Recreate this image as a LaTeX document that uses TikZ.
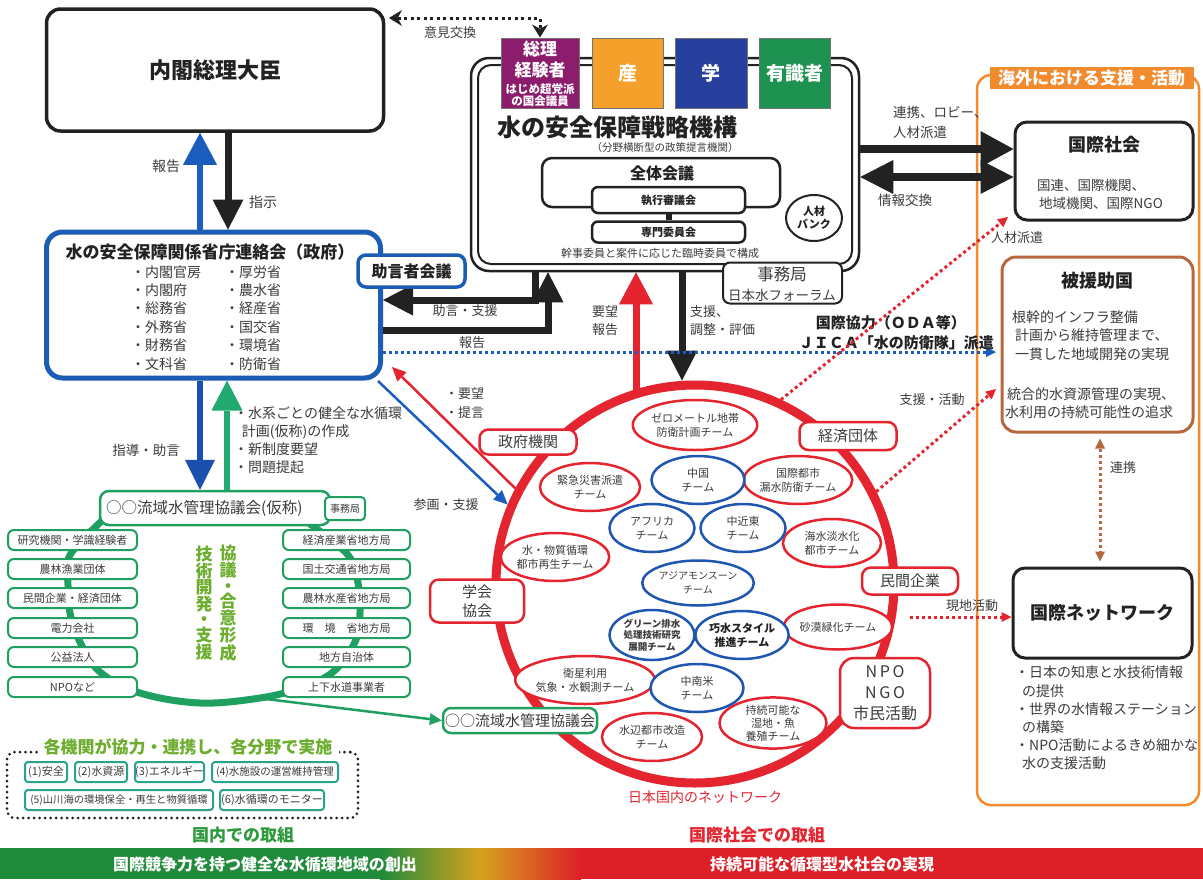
\documentclass[tikz,border=0pt]{standalone}
\usepackage{fontspec}
\setmainfont{Noto Sans CJK JP}
\usetikzlibrary{arrows.meta,shapes.geometric}
\newcommand{\myfs}[2]{\fontsize{#1}{#2}\selectfont}
\definecolor{blk}{HTML}{222222}
\definecolor{txt}{HTML}{3C3C3C}
\definecolor{bluebox}{HTML}{1D5CB4}
\definecolor{bluearr}{HTML}{1B5DBF}
\definecolor{bluedown}{HTML}{1A4FAE}
\definecolor{navy}{HTML}{27409E}
\definecolor{purp}{HTML}{8C1D6C}
\definecolor{orng}{HTML}{F4A02A}
\definecolor{grnbox}{HTML}{1E9251}
\definecolor{red1}{HTML}{E42530}
\definecolor{brwn}{HTML}{B6683C}
\definecolor{ofr}{HTML}{F28A2E}
\definecolor{gtxt}{HTML}{6DAE2F}
\definecolor{gdark}{HTML}{2E9A3C}
\definecolor{gline}{HTML}{20A060}
\definecolor{garr}{HTML}{22AA6E}
\definecolor{teal1}{HTML}{26A58C}
\definecolor{barg}{HTML}{1F8B3B}
\definecolor{barm}{HTML}{D6A21E}
\definecolor{barr}{HTML}{DD1F28}
\definecolor{teamblue}{HTML}{1F56B0}
\tikzset{
  lbl/.style={inner sep=0pt, text=txt, font=\myfs{13}{16}, align=center},
  bigblk/.style={draw=blk, line width=7pt, line join=miter, -{Triangle[length=30pt,width=31pt,line width=0pt]}},
  bigblue/.style={draw=bluearr, line width=6.5pt, -{Triangle[length=32pt,width=34pt,line width=0pt]}},
  bigred/.style={draw=red1, line width=7pt, -{Triangle[length=32pt,width=34pt,line width=0pt]}},
  biggreen/.style={draw=garr, line width=6.5pt, -{Triangle[length=30pt,width=31pt,line width=0pt]}},
  reddot/.style={draw=red1, line width=3pt, dash pattern=on 3pt off 3pt, -{Triangle[length=10pt,width=10pt,line width=0pt]}},
  bluedot/.style={draw=bluearr, line width=3pt, dash pattern=on 3pt off 3pt, -{Triangle[length=10pt,width=10pt,line width=0pt]}},
  netlbl/.style={draw=red1, line width=2.5pt, rounded corners=9pt, fill=white, inner sep=0pt, text=txt, font=\myfs{15}{18}, align=center},
  team/.style={ellipse, draw=red1, line width=2.5pt, fill=white, inner sep=0pt, align=center, text=txt, font=\myfs{11}{14}},
  teamb/.style={team, draw=teamblue},
  colbox/.style={draw=gline, line width=2pt, rounded corners=6pt, fill=white, minimum height=20pt, inner sep=0pt, font=\myfs{11}{12}, text=txt},
  itembox/.style={draw=teal1, line width=2pt, rounded corners=3pt, fill=white, minimum height=20pt, inner sep=0pt, font=\myfs{11}{12}, text=txt},
  colsq/.style={draw=black!55, line width=1pt, minimum height=70pt, inner sep=0pt, text=white, font=\myfs{19}{22}\bfseries, align=center},
}
\begin{document}
\begin{tikzpicture}[x=1pt,y=-1pt]
\useasboundingbox (0,0) rectangle (1203,879);
\fill[white] (0,0) rectangle (1203,879);

% helper coordinates
\coordinate (x200) at (200,0);
\coordinate (x227) at (227,0);
\coordinate (x228) at (228,0);
\coordinate (x535) at (535,0);
\coordinate (x548) at (548,0);
\coordinate (x636) at (636,0);
\coordinate (x682) at (682,0);
\coordinate (x1100) at (1100,0);
\coordinate (y300) at (0,300);
\coordinate (y330) at (0,330);
\coordinate (y352) at (0,352);
\coordinate (y149) at (0,149);
\coordinate (y177) at (0,177);
\coordinate (y617) at (0,617);

% ===== right frame =====
\node[draw=ofr, line width=2.5pt, rounded corners=14pt, minimum width=222pt, minimum height=730pt] (abroad) at (1088,440) {};
\node[fill=ofr, text=white, font=\myfs{17}{19}\bfseries, minimum width=204pt, minimum height=22pt, inner sep=0pt] (abroadtab) at (1091.5,78) {海外における支援・活動};

% ===== Prime minister =====
\node[draw=blk, line width=3.5pt, rounded corners=14pt, minimum width=337pt, minimum height=122pt, font=\myfs{22}{26}\bfseries, text=blk] (naikaku) at (215,70) {内閣総理大臣};

% ===== liaison council =====
\node[draw=bluebox, line width=5pt, rounded corners=16pt, minimum width=334pt, minimum height=146pt] (renraku) at (213.5,305) {};
\node[lbl, font=\myfs{17}{20}\bfseries, text=blk] (renrakut) at (210,252) {水の安全保障関係省庁連絡会（政府）};
\foreach \t/\y [count=\i] in {・内閣官房/272,・内閣府/290,・総務省/308,・外務省/327,・財務省/345,・文科省/364}
  \node[lbl, anchor=west, font=\myfs{14}{16}] (ma\i) at (131,\y) {\t};
\foreach \t/\y [count=\i] in {・厚労省/272,・農水省/290,・経産省/308,・国交省/327,・環境省/345,・防衛省/364}
  \node[lbl, anchor=west, font=\myfs{14}{16}] (mb\i) at (225,\y) {\t};

% ===== strategy organisation =====
\node[draw=blk, line width=2.5pt, rounded corners=18pt, minimum width=388pt, minimum height=213pt] (org) at (665,164.5) {};
\node[draw=blk, line width=2pt, rounded corners=13pt, minimum width=374pt, minimum height=199pt] (orgin) at (665,164.5) {};
\node[colsq, fill=purp, minimum width=78pt] (sori) at (540,73) {};
\node[lbl, text=white, font=\myfs{17}{21}\bfseries] at (540,60) {総理\\経験者};
\node[lbl, text=white, font=\myfs{11.5}{12.5}\bfseries] at (540,95) {はじめ超党派\\の国会議員};
\node[colsq, fill=orng, minimum width=71pt] (san) at (627.5,73) {産};
\node[colsq, fill=navy, minimum width=72pt] (gaku) at (711,73) {学};
\node[colsq, fill=grnbox, minimum width=71pt] (yushiki) at (794.5,73) {有識者};
\node[lbl, font=\myfs{24}{26}\bfseries, text=blk] (orgt) at (617,127) {水の安全保障戦略機構};
\node[lbl, font=\myfs{10.5}{12}] (orgsub) at (665,148) {（分野横断型の政策提言機関）};
\node[draw=blk, line width=2.5pt, rounded corners=10pt, minimum width=238pt, minimum height=49pt] (zentai) at (661,182.5) {};
\node[lbl, font=\myfs{16}{18}\bfseries, text=blk] at (662,173) {全体会議};
\node[draw=blk, line width=2.5pt, rounded corners=6pt, fill=white, minimum width=153pt, minimum height=26pt, font=\myfs{11}{13}\bfseries, text=blk] (shikko) at (668.5,200) {執行審議会};
\node[draw=blk, line width=2.5pt, rounded corners=6pt, fill=white, minimum width=153pt, minimum height=21pt, font=\myfs{11}{13}\bfseries, text=blk] (senmon) at (668.5,232) {専門委員会};
\draw[blk, line width=6pt] (shikko.south) -- (senmon.north);
\node[lbl, font=\myfs{11}{13}] (kanji) at (660,253) {幹事委員と案件に応じた臨時委員で構成};
\node[ellipse, draw=blk, line width=2pt, minimum width=56pt, minimum height=46pt, inner sep=0pt, align=center, font=\myfs{11}{13}\bfseries, text=blk] (bank) at (814,218) {人材\\バンク};
\node[draw=blk, line width=2pt, rounded corners=7pt, fill=white, minimum width=119pt, minimum height=41pt] (jimu) at (782.5,283) {};
\node[lbl, font=\myfs{16.5}{18}] at (782,274) {事務局};
\node[lbl, font=\myfs{13.5}{15}] at (782,295) {日本水フォーラム};

% exchange of views
\coordinate (ikL) at (389,18);
\coordinate (ikC) at (540,18);
\draw[blk, line width=3pt, dash pattern=on 3pt off 3.5pt, {Stealth[length=13pt,width=16pt,line width=0pt]}-{Stealth[length=13pt,width=16pt,line width=0pt]}] (ikL) -- (ikC) -- (sori.north);
\node[lbl] at (450,33) {意見交換};

% PM <-> council
\draw[bigblue] (renraku.north -| x200) -- (naikaku.south -| x200);
\draw[bigblk] (naikaku.south -| x228) -- (renraku.north -| x228);
\node[lbl, font=\myfs{14}{16}] at (166,166) {報告};
\node[lbl, font=\myfs{14}{16}] at (263,202) {指示};

% org <-> council
\draw[bigblk] (org.south -| x535) -- (x535 |- y300) -- (renraku.east |- y300);
\draw[bigblk] (renraku.east |- y330) -- (x548 |- y330) -- (org.south -| x548);
\node[draw=bluebox, line width=3.5pt, rounded corners=8pt, fill=white, minimum width=107pt, minimum height=32pt, inner sep=0pt, font=\myfs{16}{18}\bfseries, text=blk] (jogen) at (411.5,271) {助言者会議};
\node[lbl, font=\myfs{13}{15}] at (465,311) {助言・支援};
\node[lbl, font=\myfs{13}{15}] at (472,343) {報告};

% network circle
\node[circle, draw=red1, line width=9pt, minimum size=398pt, inner sep=0pt] (net) at (695,584) {};

% org <-> network
\draw[bigred, shorten <=-12pt] (x636 |- net.north) -- (x636 |- org.south);
\draw[bigblk, line width=7pt] (x682 |- org.south) -- (x682 |- net.north);
\node[lbl, font=\myfs{13}{18}] at (605,321) {要望\\報告};
\node[lbl, font=\myfs{13}{18}, align=left, anchor=west] at (690,321) {支援、\\調整・評価};

% ODA dotted
\coordinate (bdend) at (996,352);
\draw[bluedot] (renraku.east |- y352) -- (bdend);
\node[lbl, anchor=east, font=\myfs{15}{17}\bfseries, text=blk] at (966,323) {国際協力（ＯＤＡ等）};
\node[lbl, anchor=east, font=\myfs{15}{17}\bfseries, text=blk] at (994,343) {ＪＩＣＡ「水の防衛隊」派遣};

% international society
\node[draw=blk, line width=3pt, rounded corners=12pt, minimum width=178pt, minimum height=98pt] (kokusai) at (1104,171) {};
\node[lbl, font=\myfs{18}{20}\bfseries, text=blk] at (1104,145) {国際社会};
\node[lbl, anchor=west, font=\myfs{13.5}{15}] at (1037,185) {国連、国際機関、};
\node[lbl, anchor=west, font=\myfs{13.5}{15}] at (1039,203) {地域機関、国際NGO};
\draw[bigblk, line width=8pt, -{Triangle[length=33pt,width=36pt,line width=0pt]}] (org.east |- y149) -- (kokusai.west |- y149);
\draw[bigblk, line width=8pt, {Triangle[length=33pt,width=34pt,line width=0pt]}-{Triangle[length=33pt,width=34pt,line width=0pt]}] (org.east |- y177) -- (kokusai.west |- y177);
\node[lbl, anchor=west, align=left, font=\myfs{13.5}{20}] at (893,122) {連携、ロビー、\\人材派遣};
\node[lbl, anchor=west, font=\myfs{13.5}{15}] at (878,200) {情報交換};

% aided country
\node[draw=brwn, line width=3pt, rounded corners=14pt, minimum width=191pt, minimum height=175pt] (hienjo) at (1097.5,344.5) {};
\node[lbl, font=\myfs{18}{20}\bfseries, text=blk] at (1097,281) {被援助国};
\node[lbl, anchor=west, font=\myfs{14}{16}] at (1012,317) {根幹的インフラ整備};
\node[lbl, anchor=west, font=\myfs{14}{16}] at (1015,335) {計画から維持管理まで、};
\node[lbl, anchor=west, font=\myfs{14}{16}] at (1015,354) {一貫した地域開発の実現};
\node[lbl, anchor=west, font=\myfs{14}{16}] at (1007,394) {統合的水資源管理の実現、};
\node[lbl, anchor=west, font=\myfs{14}{16}] at (1005,412) {水利用の持続可能性の追求};

% international network
\node[draw=blk, line width=3pt, rounded corners=12pt, minimum width=179pt, minimum height=90pt, font=\myfs{18}{20}\bfseries, text=blk] (netw) at (1102.5,613) {国際ネットワーク};
\node[lbl, anchor=north west, align=left, font=\myfs{14}{18.2}] at (1015,666) {・日本の知恵と水技術情報\\\hspace*{0.5em}の提供\\・世界の水情報ステーション\\\hspace*{0.5em}の構築\\・NPO活動によるきめ細かな\\\hspace*{0.5em}水の支援活動};

\draw[draw=brwn, line width=3pt, dash pattern=on 3pt off 3pt, shorten <=5pt, shorten >=5pt, {Triangle[length=10pt,width=10pt,line width=0pt]}-{Triangle[length=10pt,width=10pt,line width=0pt]}] (hienjo.south -| x1100) -- (netw.north -| x1100);
\node[lbl] at (1123,468) {連携};

% red dotted links
\coordinate (zinend) at (1008,217);
\coordinate (shienend) at (996,389);
\coordinate (genstart) at (910,617);
\draw[reddot] (net.65) -- (zinend);
\draw[reddot] (net.27) -- (shienend);
\draw[reddot] (genstart) -- (netw.west |- y617);
\node[lbl] at (1017,238) {人材派遣};
\node[lbl] at (932,400) {支援・活動};
\node[lbl] at (972,606) {現地活動};

% council <-> network
\coordinate (redend) at (392,367);
\coordinate (bluestart) at (378,381);
\draw[draw=red1, line width=2.5pt, -{Triangle[length=14pt,width=13pt,line width=0pt]}] (net.152) -- (redend);
\draw[draw=bluearr, line width=2.5pt, -{Triangle[length=14pt,width=13pt,line width=0pt]}] (bluestart) -- (net.157);
\node[lbl, align=left, anchor=west, font=\myfs{13}{19}] at (445,403) {・要望\\・提言};
\node[lbl] at (446,505) {参画・支援};

% labels on circle
\node[netlbl, minimum width=97pt, minimum height=25pt] (seifu) at (528,442) {政府機関};
\node[netlbl, minimum width=97pt, minimum height=28pt] (keizai) at (848,436) {経済団体};
\node[netlbl, minimum width=96pt, minimum height=27pt] (minkan) at (910,581) {民間企業};
\node[netlbl, minimum width=94pt, minimum height=43pt, font=\myfs{15}{19}] (gakkai) at (477,601) {学会\\協会};
\node[netlbl, minimum width=90pt, minimum height=70pt, rounded corners=14pt, font=\myfs{16}{21}] (npo) at (885,693) {N\,P\,O\\N\,G\,O\\市民活動};

% teams
\node[team, minimum width=113pt, minimum height=50pt] (t1) at (695,425) {ゼロメートル地帯\\防衛計画チーム};
\node[team, minimum width=100pt, minimum height=48pt] (t2) at (590,487) {緊急災害派遣\\チーム};
\node[team, minimum width=102pt, minimum height=48pt] (t3) at (798,480) {国際都市\\漏水防衛チーム};
\node[team, minimum width=100pt, minimum height=48pt] (t4) at (555,557) {水・物質循環\\都市再生チーム};
\node[team, minimum width=98pt, minimum height=48pt] (t5) at (832,543) {海水淡水化\\都市チーム};
\node[team, minimum width=95pt, minimum height=45pt] (t6) at (838,627) {砂漠緑化チーム};
\node[team, minimum width=125pt, minimum height=48pt] (t7) at (585,680) {衛星利用\\気象・水観測チーム};
\node[team, minimum width=100pt, minimum height=48pt] (t8) at (652,737) {水辺都市改造\\チーム};
\node[team, minimum width=107pt, minimum height=50pt, font=\myfs{11}{13}] (t9) at (773,723) {持続可能な\\湿地・魚\\養殖チーム};
\node[teamb, minimum width=93pt, minimum height=48pt] (b1) at (698,480) {中国\\チーム};
\node[teamb, minimum width=85pt, minimum height=48pt] (b2) at (652,528) {アフリカ\\チーム};
\node[teamb, minimum width=85pt, minimum height=48pt] (b3) at (743,528) {中近東\\チーム};
\node[teamb, minimum width=93pt, minimum height=45pt, font=\myfs{10}{14}] (b4) at (698,583) {アジアモンスーン\\チーム};
\node[teamb, minimum width=85pt, minimum height=50pt, font=\myfs{9.5}{11.5}\bfseries] (b5) at (652,635) {グリーン排水\\処理技術研究\\展開チーム};
\node[teamb, minimum width=85pt, minimum height=48pt, font=\myfs{11}{14}\bfseries, text=blk] (b6) at (742,635) {巧水スタイル\\推進チーム};
\node[teamb, minimum width=93pt, minimum height=48pt] (b7) at (697,688) {中南米\\チーム};
\node[lbl, text=red1, font=\myfs{14}{16}] (netcap) at (705,797) {日本国内のネットワーク};

% ===== river basin council =====
\draw[gline, line width=7pt, line cap=round] plot[smooth, tension=0.6] coordinates {(105,518) (70,555) (68,585) (70,613) (80,642) (100,672) (140,693) (200,703) (260,698) (300,688) (333,672) (355,642) (360,613) (358,583) (348,555) (310,524)};
\coordinate (gc) at (266,699);
\node[draw=gline, line width=2.5pt, rounded corners=8pt, fill=white, minimum width=154pt, minimum height=25pt, inner sep=0pt, font=\myfs{15}{17}, text=txt] (ryuiki2) at (520,720.5) {○○流域水管理協議会};
\draw[draw=gline, line width=2.5pt, -{Triangle[length=12pt,width=12pt,line width=0pt]}] (gc) -- (ryuiki2.west);

\node[draw=gline, line width=2.5pt, rounded corners=9pt, fill=white, minimum width=230pt, minimum height=34pt, inner sep=0pt] (ryuiki) at (215,508) {};
\node[lbl, anchor=west, font=\myfs{15.5}{17}] (ryuikit) at (106,508) {○○流域水管理協議会(仮称)};
\node[draw=gline, line width=2pt, rounded corners=4pt, fill=white, minimum width=40pt, minimum height=23pt, inner sep=0pt, font=\myfs{10}{12}, text=txt] (ryjimu) at (345,508.5) {事務局};

\foreach \t/\y [count=\i] in {研究機関・学識経験者/540,農林漁業団体/569,民間企業・経済団体/598,電力会社/628,公益法人/657,NPOなど/687}
  \node[colbox, minimum width=129pt] (L\i) at (72.5,\y) {\t};
\foreach \t/\y [count=\i] in {経済産業省地方局/540,国土交通省地方局/569,農林水産省地方局/598,環\quad 境\quad 省地方局/628,地方自治体/657,上下水道事業者/687}
  \node[colbox, minimum width=127pt] (R\i) at (346.5,\y) {\t};

\node[lbl, text=gtxt, font=\myfs{17}{15.6}\bfseries] (vt1) at (228,603) {協\\議\\・\\合\\意\\形\\成};
\node[lbl, text=gtxt, font=\myfs{17}{15.6}\bfseries] (vt2) at (204,603) {技\\術\\開\\発\\・\\支\\援};

% council <-> basin
\draw[bigblue, draw=bluedown, -{Triangle[length=30pt,width=30pt,line width=0pt]}] (renraku.south -| x200) -- (ryuiki.north -| x200);
\draw[biggreen] (ryuiki.north -| x227) -- (renraku.south -| x227);
\node[lbl, font=\myfs{13.5}{15}] at (146,450) {指導・助言};
\node[lbl, anchor=north west, align=left, font=\myfs{14}{18.3}] at (234,406) {・水系ごとの健全な水循環\\\hspace*{0.55em}計画(仮称)の作成\\・新制度要望\\・問題提起};

% dotted box of fields
\node[draw=blk, line width=3pt, line cap=round, dash pattern=on 0pt off 5.5pt, rounded corners=8pt, minimum width=351pt, minimum height=66pt] (fields) at (182.5,785) {};
\node[fill=white, inner xsep=6pt, inner ysep=1pt, text=gtxt, font=\myfs{17}{19}\bfseries] (fieldt) at (188,747) {各機関が協力・連携し、各分野で実施};
\node[itembox, minimum width=42pt] (f1) at (46,772) {(1)安全};
\node[itembox, minimum width=52pt] (f2) at (101,772) {(2)水資源};
\node[itembox, minimum width=69pt] (f3) at (169.5,772) {(3)エネルギー};
\node[itembox, minimum width=126pt, font=\myfs{10.5}{12}] (f4) at (275,772) {(4)水施設の運営維持管理};
\node[itembox, minimum width=188pt, font=\myfs{10.3}{12}] (f5) at (119,800) {(5)山川海の環境保全・再生と物質循環};
\node[itembox, minimum width=104pt] (f6) at (272,800) {(6)水循環のモニター};

% bottom
\node[lbl, text=gdark, font=\myfs{17}{19}\bfseries] (dom) at (243,835) {国内での取組};
\node[lbl, text=red1, font=\myfs{17}{19}\bfseries] (intl) at (757,835) {国際社会での取組};
\fill[barg] (0,848) rectangle (381,879);
\shade[left color=barg, right color=barr, middle color=barm] (380,848) rectangle (581,879);
\fill[barr] (580,848) rectangle (1203,879);
\node[lbl, text=white, font=\myfs{16}{18}\bfseries] (bar1) at (265,864) {国際競争力を持つ健全な水循環地域の創出};
\node[lbl, text=white, font=\myfs{16}{18}\bfseries] (bar2) at (822,864) {持続可能な循環型水社会の実現};
\end{tikzpicture}
\end{document}
